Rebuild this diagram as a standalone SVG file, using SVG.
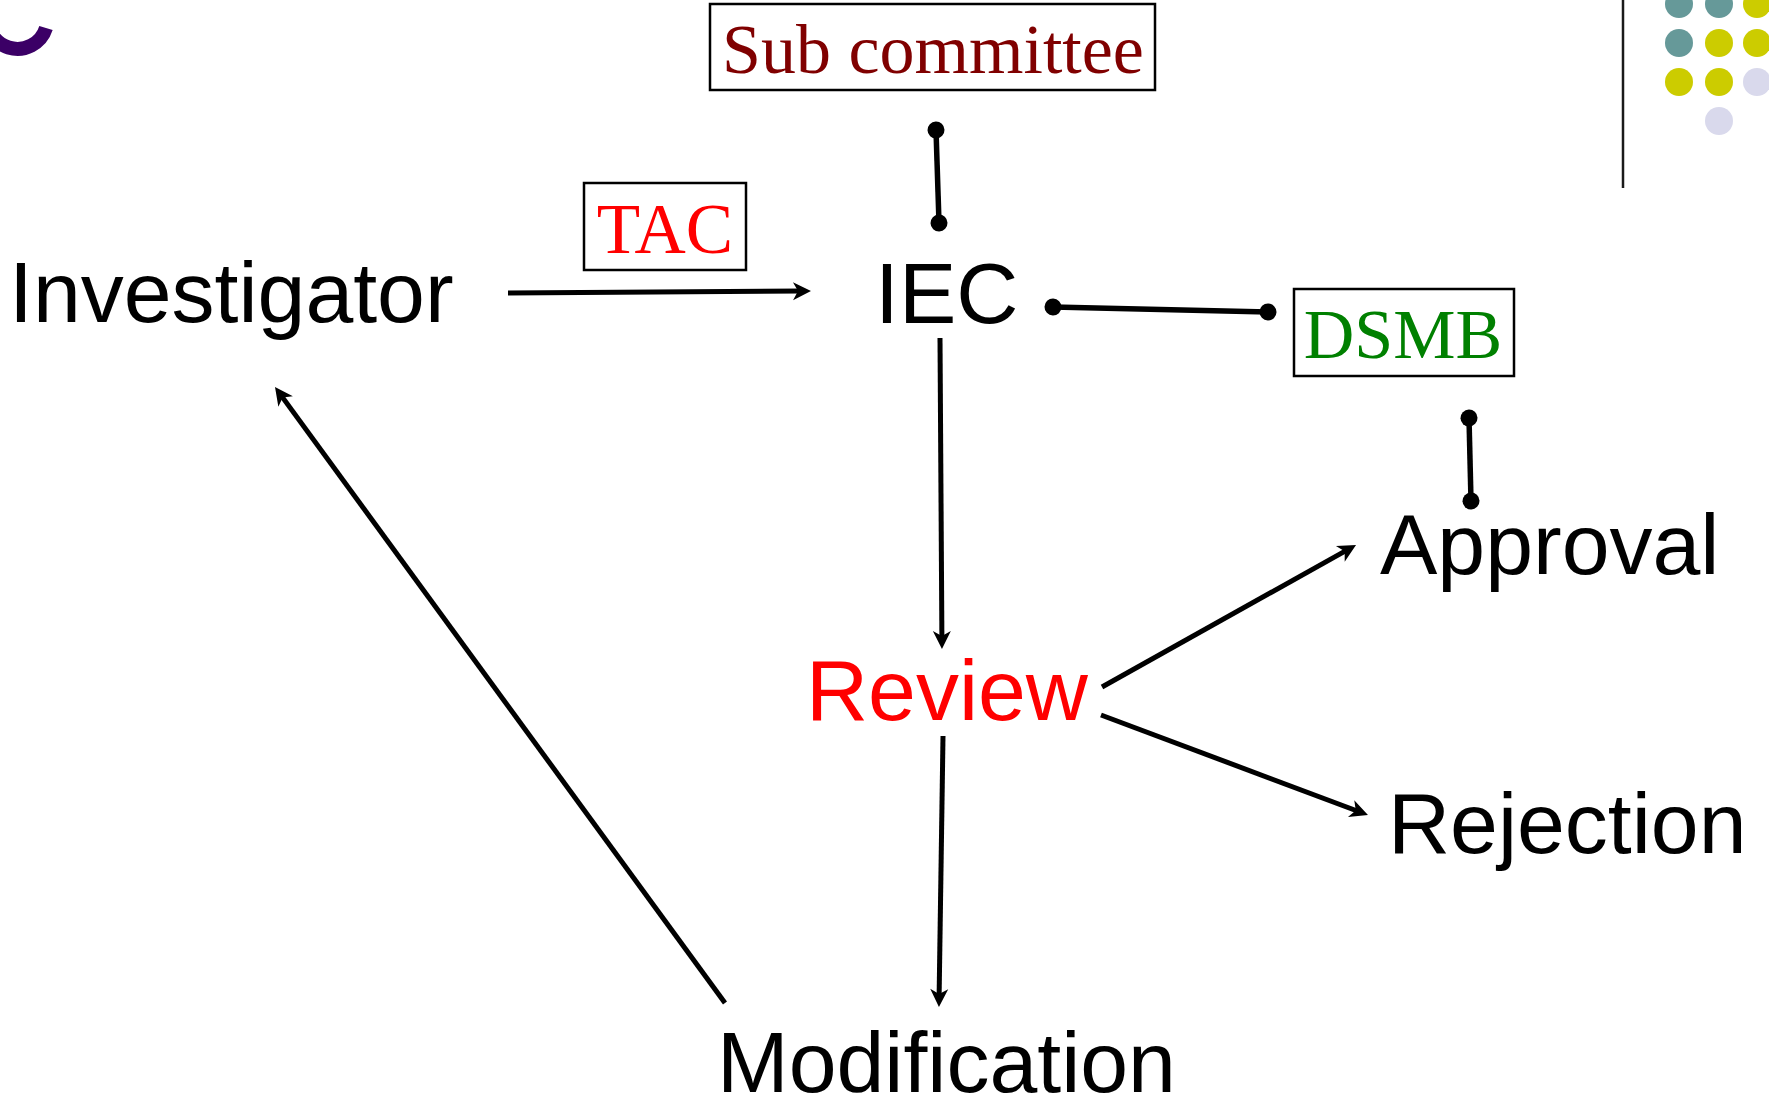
<svg xmlns="http://www.w3.org/2000/svg" width="1769" height="1098" viewBox="0 0 1769 1098">
  <style>
    .sans { font-family: "Liberation Sans", Arial, sans-serif; font-size: 86px; fill: #000; }
    .serif { font-family: "Liberation Serif", "Times New Roman", serif; font-size: 70px; text-anchor: middle; }
    .box { fill: #fff; stroke: #000; stroke-width: 2.5; }
    .arrow { stroke: #000; stroke-width: 5; fill: none; marker-end: url(#head); }
    .link { stroke: #000; stroke-width: 5.5; fill: none; marker-start: url(#dot); marker-end: url(#dot); }
    .teal { fill: #669999; }
    .yel { fill: #CCCC00; }
    .lav { fill: #D9D9EC; }
  </style>
  <defs>
    <marker id="head" markerUnits="userSpaceOnUse" viewBox="-10 -12 24 24" markerWidth="24" markerHeight="24" refX="0" refY="0" orient="auto" overflow="visible">
      <path d="M10,0 L-8,-9 L-3,0 L-8,9 Z" fill="#000"/>
    </marker>
    <marker id="dot" markerUnits="userSpaceOnUse" viewBox="-10 -10 20 20" markerWidth="20" markerHeight="20" refX="0" refY="0" orient="auto" overflow="visible">
      <circle cx="0" cy="0" r="8.5" fill="#000"/>
    </marker>
  </defs>

  <g id="decor">
    <path d="M46,28 A29,29 0 0 1 -11,10" fill="none" stroke="#3B0066" stroke-width="14"/>
    <line x1="1623" y1="0" x2="1623" y2="188" stroke="#1a1a1a" stroke-width="2.5"/>
    <circle class="teal" cx="1679" cy="4" r="14"/>
    <circle class="teal" cx="1719" cy="4" r="14"/>
    <circle class="yel" cx="1757" cy="4" r="14"/>
    <circle class="teal" cx="1679" cy="43" r="14"/>
    <circle class="yel" cx="1719" cy="43" r="14"/>
    <circle class="yel" cx="1757" cy="43" r="14"/>
    <circle class="yel" cx="1679" cy="82" r="14"/>
    <circle class="yel" cx="1719" cy="82" r="14"/>
    <circle class="lav" cx="1757" cy="82" r="14"/>
    <circle class="lav" cx="1719" cy="121" r="14"/>
  </g>

  <g id="connectors">
    <line class="arrow" x1="508" y1="293" x2="801" y2="291.1"/>
    <line class="link" x1="936" y1="130" x2="939" y2="223"/>
    <line class="link" x1="1053" y1="307" x2="1268" y2="312"/>
    <line class="link" x1="1469" y1="418" x2="1471" y2="501"/>
    <line class="arrow" x1="940" y1="338" x2="941.9" y2="639"/>
    <line class="arrow" x1="943" y1="736" x2="939.1" y2="997"/>
    <line class="arrow" x1="725" y1="1003" x2="280.9" y2="395.1"/>
    <line class="arrow" x1="1102" y1="687" x2="1347.3" y2="549.9"/>
    <line class="arrow" x1="1101" y1="715" x2="1358.6" y2="811.5"/>
  </g>

  <g id="subcommittee">
    <rect class="box" x="710" y="4" width="445" height="86"/>
    <text class="serif" x="933" y="73" fill="#800000">Sub committee</text>
  </g>
  <g id="tac">
    <rect class="box" x="584" y="183" width="162" height="87"/>
    <text class="serif" x="665" y="253" fill="#FF0000" style="font-size:71px">TAC</text>
  </g>
  <g id="dsmb">
    <rect class="box" x="1294" y="289" width="220" height="87"/>
    <text class="serif" x="1403" y="358" fill="#008000">DSMB</text>
  </g>
  <g id="investigator">
    <text class="sans" x="9" y="322">Investigator</text>
  </g>
  <g id="iec">
    <text class="sans" x="875" y="323">IEC</text>
  </g>
  <g id="review">
    <text class="sans" x="806" y="720" style="fill:#FF0000">Review</text>
  </g>
  <g id="approval">
    <text class="sans" x="1380" y="574">Approval</text>
  </g>
  <g id="rejection">
    <text class="sans" x="1388" y="853">Rejection</text>
  </g>
  <g id="modification">
    <text class="sans" x="717" y="1092">Modification</text>
  </g>
</svg>
